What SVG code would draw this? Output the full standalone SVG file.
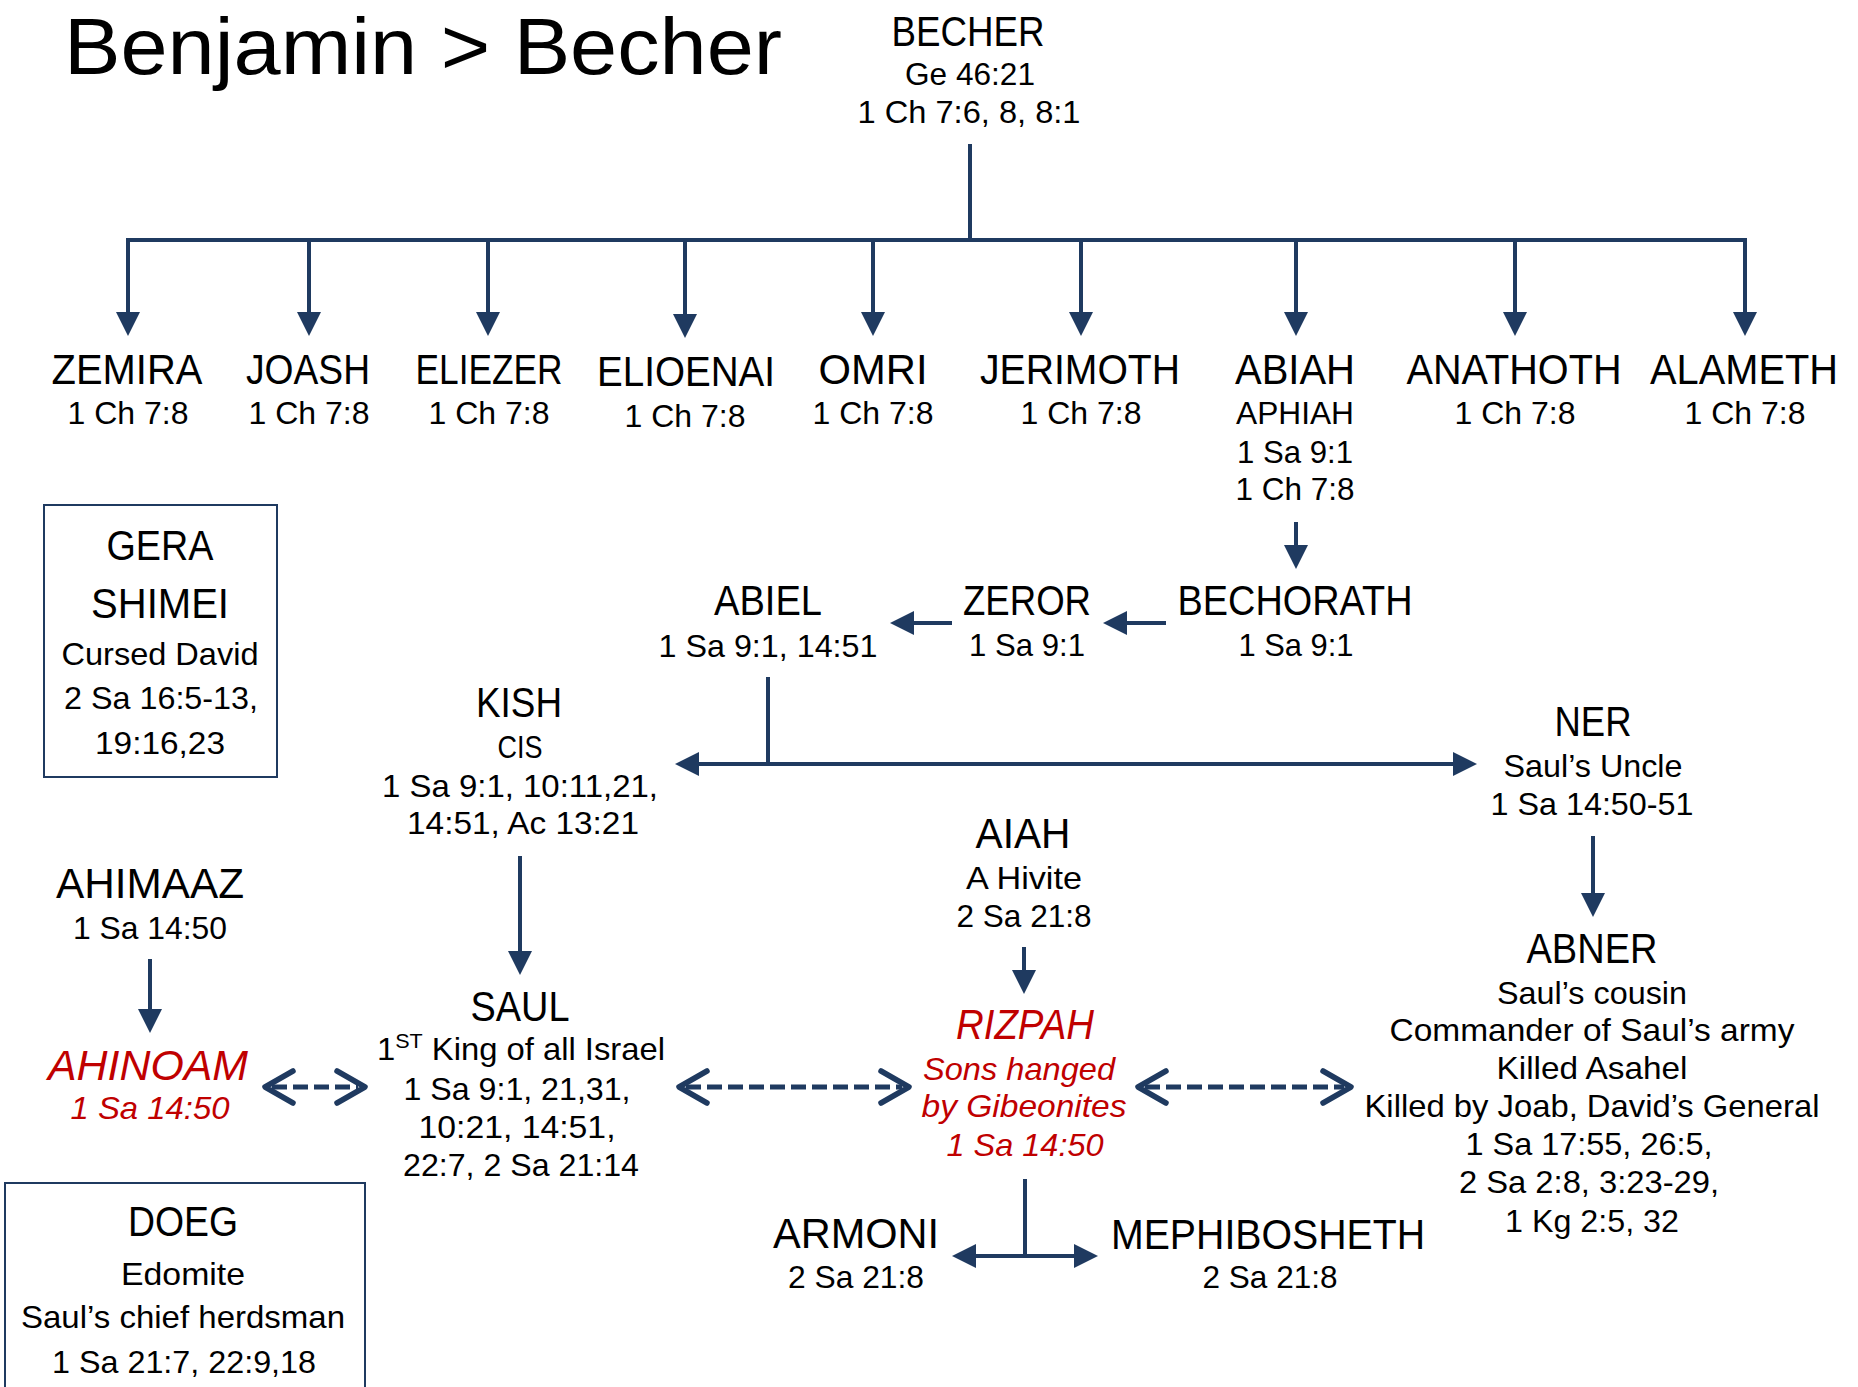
<svg xmlns="http://www.w3.org/2000/svg" xmlns:xlink="http://www.w3.org/1999/xlink" width="1858" height="1387" viewBox="0 0 1858 1387">
<style>
text{font-family:"Liberation Sans",Arial,sans-serif;text-anchor:middle;fill:#000}
.t{font-size:80px;text-anchor:start}
.n{font-size:42px}
.r{font-size:32px}
.red{fill:#C00000;font-style:italic}
.ln{stroke:#1F3A60;stroke-width:4;fill:none}
.ah{fill:#1F3A60}
.dash{stroke:#1F3A60;stroke-width:5;stroke-dasharray:15 6;fill:none}
.chev{stroke:#1F3A60;stroke-width:5.5;fill:none;stroke-linecap:round;stroke-linejoin:round}
.box{fill:#fff;stroke:#1F3A60;stroke-width:2}
</style>
<defs>
<path id="ah" class="ah" d="M0,0 L-24,-12 L-24,12 Z"/>
<path id="chev" class="chev" d="M28,-16 L0,0 L28,16"/>
</defs>
<rect width="1858" height="1387" fill="#fff"/>

<g id="title">
<text class="t" x="64" y="74" textLength="718" lengthAdjust="spacingAndGlyphs">Benjamin &gt; Becher</text>
</g>

<g id="connectors">
<path class="ln" d="M970,144 V240 M126,240 H1747 M128,240 V314 M309,240 V314 M488,240 V314 M685,240 V316 M873,240 V314 M1081,240 V314 M1296,240 V314 M1515,240 V314 M1745,240 V314"/>
<use xlink:href="#ah" transform="translate(128,336) rotate(90)"/>
<use xlink:href="#ah" transform="translate(309,336) rotate(90)"/>
<use xlink:href="#ah" transform="translate(488,336) rotate(90)"/>
<use xlink:href="#ah" transform="translate(685,338) rotate(90)"/>
<use xlink:href="#ah" transform="translate(873,336) rotate(90)"/>
<use xlink:href="#ah" transform="translate(1081,336) rotate(90)"/>
<use xlink:href="#ah" transform="translate(1296,336) rotate(90)"/>
<use xlink:href="#ah" transform="translate(1515,336) rotate(90)"/>
<use xlink:href="#ah" transform="translate(1745,336) rotate(90)"/>

<path class="ln" d="M1296,522 V547 M1166,623 H1125 M952,623 H912 M768,677 V764 M697,764 H1455 M520,856 V953 M150,959 V1011 M1024,947 V972 M1593,836 V895 M1025,1179 V1256 M974,1256 H1076"/>
<use xlink:href="#ah" transform="translate(1296,569) rotate(90)"/>
<use xlink:href="#ah" transform="translate(1103,623) rotate(180)"/>
<use xlink:href="#ah" transform="translate(890,623) rotate(180)"/>
<use xlink:href="#ah" transform="translate(675,764) rotate(180)"/>
<use xlink:href="#ah" transform="translate(1477,764)"/>
<use xlink:href="#ah" transform="translate(520,975) rotate(90)"/>
<use xlink:href="#ah" transform="translate(150,1033) rotate(90)"/>
<use xlink:href="#ah" transform="translate(1024,994) rotate(90)"/>
<use xlink:href="#ah" transform="translate(1593,917) rotate(90)"/>
<use xlink:href="#ah" transform="translate(952,1256) rotate(180)"/>
<use xlink:href="#ah" transform="translate(1098,1256)"/>

<path class="dash" d="M272,1087 H358 M686,1087 H902 M1145,1087 H1344"/>
<use xlink:href="#chev" transform="translate(265,1087)"/>
<use xlink:href="#chev" transform="translate(365,1087) scale(-1,1)"/>
<use xlink:href="#chev" transform="translate(679,1087)"/>
<use xlink:href="#chev" transform="translate(909,1087) scale(-1,1)"/>
<use xlink:href="#chev" transform="translate(1138,1087)"/>
<use xlink:href="#chev" transform="translate(1351,1087) scale(-1,1)"/>
</g>

<g id="becher">
<text class="n" x="968" y="46" textLength="153" lengthAdjust="spacingAndGlyphs">BECHER</text>
<text class="r" x="970" y="85" textLength="130" lengthAdjust="spacingAndGlyphs">Ge 46:21</text>
<text class="r" x="969" y="123" textLength="223" lengthAdjust="spacingAndGlyphs">1 Ch 7:6, 8, 8:1</text>
</g>

<g id="zemira">
<text class="n" x="127" y="384" textLength="151" lengthAdjust="spacingAndGlyphs">ZEMIRA</text>
<text class="r" x="128" y="424" textLength="121" lengthAdjust="spacingAndGlyphs">1 Ch 7:8</text>
</g>
<g id="joash">
<text class="n" x="308" y="384" textLength="124" lengthAdjust="spacingAndGlyphs">JOASH</text>
<text class="r" x="309" y="424" textLength="121" lengthAdjust="spacingAndGlyphs">1 Ch 7:8</text>
</g>
<g id="eliezer">
<text class="n" x="489" y="384" textLength="147" lengthAdjust="spacingAndGlyphs">ELIEZER</text>
<text class="r" x="489" y="424" textLength="121" lengthAdjust="spacingAndGlyphs">1 Ch 7:8</text>
</g>
<g id="elioenai">
<text class="n" x="686" y="386" textLength="178" lengthAdjust="spacingAndGlyphs">ELIOENAI</text>
<text class="r" x="685" y="427" textLength="121" lengthAdjust="spacingAndGlyphs">1 Ch 7:8</text>
</g>
<g id="omri">
<text class="n" x="873" y="384" textLength="109" lengthAdjust="spacingAndGlyphs">OMRI</text>
<text class="r" x="873" y="424" textLength="121" lengthAdjust="spacingAndGlyphs">1 Ch 7:8</text>
</g>
<g id="jerimoth">
<text class="n" x="1080" y="384" textLength="200" lengthAdjust="spacingAndGlyphs">JERIMOTH</text>
<text class="r" x="1081" y="424" textLength="121" lengthAdjust="spacingAndGlyphs">1 Ch 7:8</text>
</g>
<g id="abiah">
<text class="n" x="1295" y="384" textLength="120" lengthAdjust="spacingAndGlyphs">ABIAH</text>
<text class="r" x="1295" y="424" textLength="118" lengthAdjust="spacingAndGlyphs">APHIAH</text>
<text class="r" x="1295" y="463" textLength="116" lengthAdjust="spacingAndGlyphs">1 Sa 9:1</text>
<text class="r" x="1295" y="500" textLength="119" lengthAdjust="spacingAndGlyphs">1 Ch 7:8</text>
</g>
<g id="anathoth">
<text class="n" x="1514" y="384" textLength="215" lengthAdjust="spacingAndGlyphs">ANATHOTH</text>
<text class="r" x="1515" y="424" textLength="121" lengthAdjust="spacingAndGlyphs">1 Ch 7:8</text>
</g>
<g id="alameth">
<text class="n" x="1744" y="384" textLength="188" lengthAdjust="spacingAndGlyphs">ALAMETH</text>
<text class="r" x="1745" y="424" textLength="121" lengthAdjust="spacingAndGlyphs">1 Ch 7:8</text>
</g>

<g id="gera">
<rect class="box" x="44" y="505" width="233" height="272"/>
<text class="n" x="160" y="560" textLength="107" lengthAdjust="spacingAndGlyphs">GERA</text>
<text class="n" x="160" y="618" textLength="138" lengthAdjust="spacingAndGlyphs">SHIMEI</text>
<text class="r" x="160" y="665" textLength="197" lengthAdjust="spacingAndGlyphs">Cursed David</text>
<text class="r" x="161" y="709" textLength="194" lengthAdjust="spacingAndGlyphs">2 Sa 16:5-13,</text>
<text class="r" x="160" y="754" textLength="130" lengthAdjust="spacingAndGlyphs">19:16,23</text>
</g>

<g id="abiel">
<text class="n" x="768" y="615" textLength="108" lengthAdjust="spacingAndGlyphs">ABIEL</text>
<text class="r" x="768" y="657" textLength="219" lengthAdjust="spacingAndGlyphs">1 Sa 9:1, 14:51</text>
</g>
<g id="zeror">
<text class="n" x="1027" y="615" textLength="128" lengthAdjust="spacingAndGlyphs">ZEROR</text>
<text class="r" x="1027" y="656" textLength="116" lengthAdjust="spacingAndGlyphs">1 Sa 9:1</text>
</g>
<g id="bechorath">
<text class="n" x="1295" y="615" textLength="235" lengthAdjust="spacingAndGlyphs">BECHORATH</text>
<text class="r" x="1296" y="656" textLength="115" lengthAdjust="spacingAndGlyphs">1 Sa 9:1</text>
</g>

<g id="kish">
<text class="n" x="519" y="717" textLength="86" lengthAdjust="spacingAndGlyphs">KISH</text>
<text class="r" x="520" y="758" textLength="45" lengthAdjust="spacingAndGlyphs">CIS</text>
<text class="r" x="520" y="797" textLength="276" lengthAdjust="spacingAndGlyphs">1 Sa 9:1, 10:11,21,</text>
<text class="r" x="523" y="834" textLength="232" lengthAdjust="spacingAndGlyphs">14:51, Ac 13:21</text>
</g>

<g id="ner">
<text class="n" x="1593" y="736" textLength="77" lengthAdjust="spacingAndGlyphs">NER</text>
<text class="r" x="1593" y="777" textLength="179" lengthAdjust="spacingAndGlyphs">Saul’s Uncle</text>
<text class="r" x="1592" y="815" textLength="203" lengthAdjust="spacingAndGlyphs">1 Sa 14:50-51</text>
</g>

<g id="aiah">
<text class="n" x="1023" y="848" textLength="95" lengthAdjust="spacingAndGlyphs">AIAH</text>
<text class="r" x="1024" y="889" textLength="116" lengthAdjust="spacingAndGlyphs">A Hivite</text>
<text class="r" x="1024" y="927" textLength="135" lengthAdjust="spacingAndGlyphs">2 Sa 21:8</text>
</g>

<g id="ahimaaz">
<text class="n" x="150" y="898" textLength="188" lengthAdjust="spacingAndGlyphs">AHIMAAZ</text>
<text class="r" x="150" y="939" textLength="154" lengthAdjust="spacingAndGlyphs">1 Sa 14:50</text>
</g>

<g id="ahinoam">
<text class="n red" x="148" y="1080" textLength="200" lengthAdjust="spacingAndGlyphs">AHINOAM</text>
<text class="r red" x="150" y="1119" textLength="159" lengthAdjust="spacingAndGlyphs">1 Sa 14:50</text>
</g>

<g id="saul">
<text class="n" x="520" y="1021" textLength="99" lengthAdjust="spacingAndGlyphs">SAUL</text>
<text class="r" x="521" y="1060" textLength="288" lengthAdjust="spacingAndGlyphs">1<tspan font-size="21" dy="-12">ST</tspan><tspan dy="12"> King of all Israel</tspan></text>
<text class="r" x="517" y="1100" textLength="227" lengthAdjust="spacingAndGlyphs">1 Sa 9:1, 21,31,</text>
<text class="r" x="517" y="1138" textLength="197" lengthAdjust="spacingAndGlyphs">10:21, 14:51,</text>
<text class="r" x="521" y="1176" textLength="236" lengthAdjust="spacingAndGlyphs">22:7, 2 Sa 21:14</text>
</g>

<g id="rizpah">
<text class="n red" x="1025" y="1039" textLength="138" lengthAdjust="spacingAndGlyphs">RIZPAH</text>
<text class="r red" x="1019" y="1080" textLength="192" lengthAdjust="spacingAndGlyphs">Sons hanged</text>
<text class="r red" x="1024" y="1117" textLength="205" lengthAdjust="spacingAndGlyphs">by Gibeonites</text>
<text class="r red" x="1025" y="1156" textLength="157" lengthAdjust="spacingAndGlyphs">1 Sa 14:50</text>
</g>

<g id="abner">
<text class="n" x="1592" y="963" textLength="131" lengthAdjust="spacingAndGlyphs">ABNER</text>
<text class="r" x="1592" y="1004" textLength="190" lengthAdjust="spacingAndGlyphs">Saul’s cousin</text>
<text class="r" x="1592" y="1041" textLength="405" lengthAdjust="spacingAndGlyphs">Commander of Saul’s army</text>
<text class="r" x="1592" y="1079" textLength="191" lengthAdjust="spacingAndGlyphs">Killed Asahel</text>
<text class="r" x="1592" y="1117" textLength="455" lengthAdjust="spacingAndGlyphs">Killed by Joab, David’s General</text>
<text class="r" x="1589" y="1155" textLength="247" lengthAdjust="spacingAndGlyphs">1 Sa 17:55, 26:5,</text>
<text class="r" x="1589" y="1193" textLength="260" lengthAdjust="spacingAndGlyphs">2 Sa 2:8, 3:23-29,</text>
<text class="r" x="1592" y="1232" textLength="174" lengthAdjust="spacingAndGlyphs">1 Kg 2:5, 32</text>
</g>

<g id="doeg">
<rect class="box" x="5" y="1183" width="360" height="220"/>
<text class="n" x="183" y="1236" textLength="110" lengthAdjust="spacingAndGlyphs">DOEG</text>
<text class="r" x="183" y="1285" textLength="124" lengthAdjust="spacingAndGlyphs">Edomite</text>
<text class="r" x="183" y="1328" textLength="324" lengthAdjust="spacingAndGlyphs">Saul’s chief herdsman</text>
<text class="r" x="184" y="1373" textLength="264" lengthAdjust="spacingAndGlyphs">1 Sa 21:7, 22:9,18</text>
</g>

<g id="armoni">
<text class="n" x="856" y="1248" textLength="166" lengthAdjust="spacingAndGlyphs">ARMONI</text>
<text class="r" x="856" y="1288" textLength="136" lengthAdjust="spacingAndGlyphs">2 Sa 21:8</text>
</g>
<g id="mephibosheth">
<text class="n" x="1268" y="1249" textLength="314" lengthAdjust="spacingAndGlyphs">MEPHIBOSHETH</text>
<text class="r" x="1270" y="1288" textLength="135" lengthAdjust="spacingAndGlyphs">2 Sa 21:8</text>
</g>
</svg>
